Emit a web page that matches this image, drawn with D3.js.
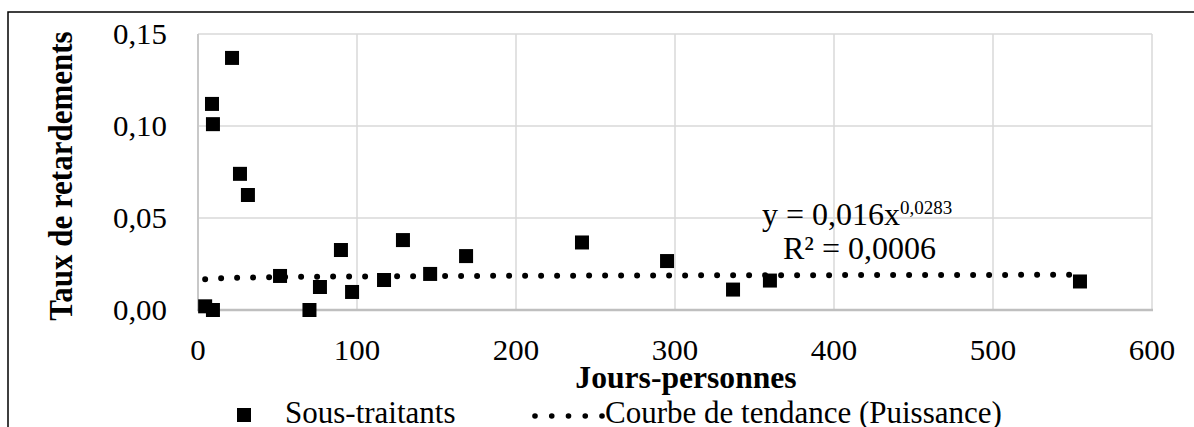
<!DOCTYPE html>
<html><head><meta charset="utf-8">
<script src="https://cdn.jsdelivr.net/npm/d3@7"></script>
<style>html,body{margin:0;padding:0;background:#fff;} text{font-family:"Liberation Serif","Times New Roman",serif;fill:#000;}</style>
</head><body>
<svg id="c" width="1194" height="427"></svg>
<script>
const xValues = [4.5, 9.4, 8.8, 9.4, 21.4, 26.4, 31.4, 51.6, 70.1, 76.7, 89.9, 96.9, 117, 128.9, 146, 168.6, 241.5, 295, 336.5, 359.7, 554.7];
const yValues = [0.002, 0.0, 0.112, 0.101, 0.137, 0.074, 0.0625, 0.0185, 0.0, 0.0125, 0.0326, 0.0098, 0.0163, 0.038, 0.0196, 0.0293, 0.0367, 0.0266, 0.0111, 0.016, 0.0155];
const xTicks = [0, 100, 200, 300, 400, 500, 600];
const yTicks = [0, 0.05, 0.10, 0.15];
const trendCoef = 0.016, trendExp = 0.0283;
const seriesName = "Sous-traitants";
const trendName = "Courbe de tendance (Puissance)";
const xTitle = "Jours-personnes", yTitle = "Taux de retardements";

const svg = d3.select("#c");
const L = 198, R = 1152, T = 34, B = 310;
const x = d3.scaleLinear().domain([0, 600]).range([L, R]);
const y = d3.scaleLinear().domain([0, 0.15]).range([B, T]);
const fmt = v => d3.format(".2f")(v).replace(".", ",");
const SX = 1.03;

// outer frame
svg.append("path").attr("d", "M8,430 L8,12 L1200,12").attr("fill", "none").attr("stroke", "#000").attr("stroke-width", 1.5);

// grid
svg.append("g").selectAll("line").data(xTicks.slice(1)).join("line")
  .attr("x1", d => x(d)).attr("x2", d => x(d)).attr("y1", T).attr("y2", B)
  .attr("stroke", "#d9d9d9").attr("stroke-width", 1.5);
svg.append("g").selectAll("line").data(yTicks.slice(1)).join("line")
  .attr("x1", L).attr("x2", R).attr("y1", d => y(d)).attr("y2", d => y(d))
  .attr("stroke", "#d9d9d9").attr("stroke-width", 1.5);
// axes lines
svg.append("line").attr("x1", L).attr("x2", L).attr("y1", T).attr("y2", B).attr("stroke", "#c8c8c8").attr("stroke-width", 2);
svg.append("line").attr("x1", L - 1).attr("x2", R + 1).attr("y1", B).attr("y2", B).attr("stroke", "#bfbfbf").attr("stroke-width", 2.5);

// tick labels
svg.append("g").selectAll("text").data(yTicks).join("text")
  .attr("transform", d => `translate(167,${y(d) + 10}) scale(${SX},1)`).attr("text-anchor", "end")
  .style("font-size", "30px").text(d => fmt(d));
svg.append("g").selectAll("text").data(xTicks).join("text")
  .attr("transform", d => `translate(${x(d)},360) scale(${SX},1)`).attr("text-anchor", "middle")
  .style("font-size", "30px").text(d => d);

// titles
svg.append("text").attr("transform", "translate(686,388) scale(1.02,1)").attr("text-anchor", "middle")
  .style("font-size", "31px").style("font-weight", "bold").text(xTitle);
svg.append("text").attr("transform", "translate(72,176) scale(1.12,1) rotate(-90)").attr("text-anchor", "middle")
  .style("font-size", "31px").style("font-weight", "bold").text(yTitle);

// trend line
const xmin = d3.min(xValues), xmax = d3.max(xValues);
const trendX = d3.range(0, 101).map(i => xmin + (xmax - xmin) * i / 100);
const line = d3.line().x(d => x(d)).y(d => y(trendCoef * Math.pow(d, trendExp)));
svg.append("path").datum(trendX).attr("d", line).attr("fill", "none")
  .attr("stroke", "#000").attr("stroke-width", 6).attr("stroke-linecap", "round")
  .attr("stroke-dasharray", "0 16");

// points
const pts = xValues.map((v, i) => [v, yValues[i]]);
const S = 14;
svg.append("g").selectAll("rect").data(pts).join("rect")
  .attr("x", d => x(d[0]) - S / 2).attr("y", d => y(d[1]) - S / 2)
  .attr("width", S).attr("height", S).attr("fill", "#000");

// equation
const eq = svg.append("text").attr("x", 762).attr("y", 225).style("font-size", "32px");
eq.append("tspan").text("y = 0,016x");
eq.append("tspan").attr("dy", -11).style("font-size", "19px").text("0,0283");
svg.append("text").attr("x", 783).attr("y", 259).style("font-size", "32px").text("R² = 0,0006");

// legend
svg.append("rect").attr("x", 244 - S / 2).attr("y", 415 - S / 2).attr("width", S).attr("height", S).attr("fill", "#000");
svg.append("text").attr("x", 285).attr("y", 423).style("font-size", "31px").text(seriesName);
svg.append("g").selectAll("circle").data(d3.range(5)).join("circle")
  .attr("cx", d => 535 + d * 16.75).attr("cy", 416).attr("r", 2.8).attr("fill", "#000");
svg.append("text").attr("x", 605).attr("y", 423).style("font-size", "31px").text(trendName);
</script>
</body></html>
